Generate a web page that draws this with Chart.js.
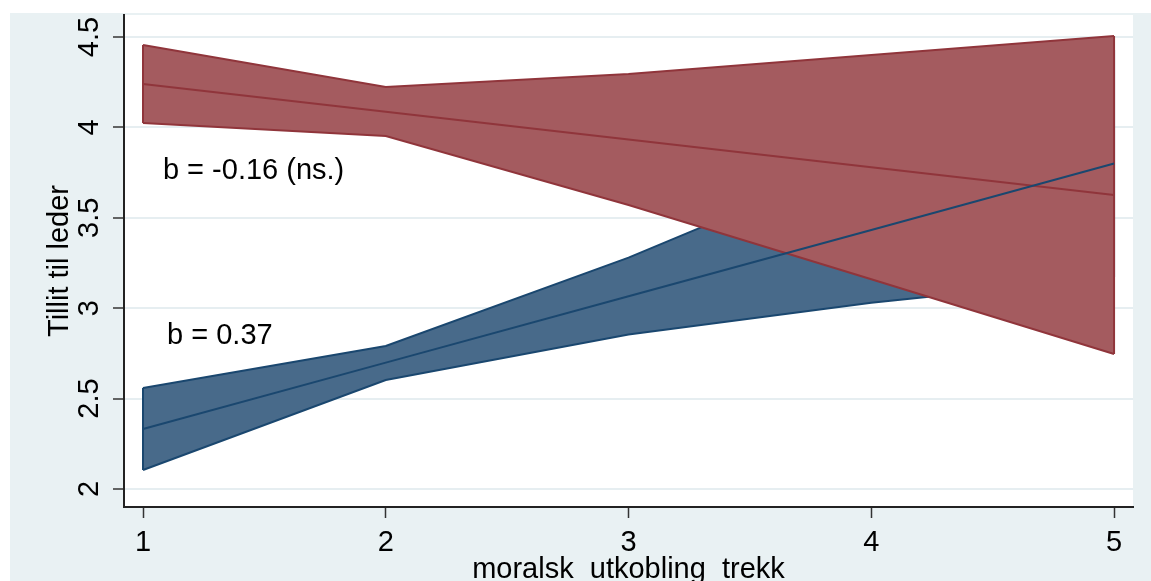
<!DOCTYPE html>
<html><head><meta charset="utf-8">
<script src="https://cdn.jsdelivr.net/npm/chart.js@4/dist/chart.umd.min.js"></script>
<style>html,body{margin:0;padding:0;background:#fff}#wrap{width:1151px;height:581px}</style>
</head><body><div id="wrap"><canvas id="c" width="1151" height="581"></canvas></div>
<script>
// ---- data ----
const xValues = [1, 2, 3, 4, 5];
const redMean  = [4.240, 4.087, 3.933, 3.780, 3.626];
const redUpper = [4.456, 4.223, 4.295, 4.400, 4.505];
const redLower = [4.024, 3.952, 3.571, 3.160, 2.747];
const blueMean  = [2.332, 2.699, 3.066, 3.433, 3.800];
const blueUpper = [2.559, 2.791, 3.280, 3.840, 4.430];
const blueLower = [2.105, 2.603, 2.855, 3.030, 3.170];
const xTicks = [1, 2, 3, 4, 5];
const xTickLabels = ['1', '2', '3', '4', '5'];
const yTicks = [2, 2.5, 3, 3.5, 4, 4.5];
const yTickLabels = ['2', '2.5', '3', '3.5', '4', '4.5'];
const xTitle = 'moralsk_utkobling_trekk';
const yTitle = 'Tillit til leder';
const annoText = ['b = -0.16 (ns.)', 'b = 0.37'];
const annoX = [1.082, 1.099];
const annoY = [3.715, 2.802];

// ---- styles ----
const FONT = '"Liberation Sans", Arial, sans-serif';
const RED_EDGE = 'rgb(144,53,59)', RED_FILL = 'rgb(164,91,95)';
const BLUE_EDGE = 'rgb(26,71,111)', BLUE_FILL = 'rgb(72,106,138)';
const OUTER_BG = 'rgb(233,241,243)';
const GRID = 'rgb(230,238,241)';

const pts = arr => xValues.map((x, i) => ({x, y: arr[i]}));

const bgPlugin = {
  id: 'bg',
  beforeDraw(chart) {
    const {ctx, chartArea: a, width, height} = chart;
    ctx.save();
    ctx.fillStyle = '#fff'; ctx.fillRect(0, 0, width, height);
    ctx.fillStyle = OUTER_BG; ctx.fillRect(10, 13, width - 10, height - 13);
    ctx.fillStyle = '#fff'; ctx.fillRect(a.left, a.top, a.right - a.left, a.bottom - a.top);
    ctx.restore();
  }
};

const edgePlugin = {
  id: 'edges',
  afterDatasetDraw(chart, args) {
    const pairs = {1: [blueLower, blueUpper, BLUE_EDGE], 3: [redLower, redUpper, RED_EDGE]};
    const p = pairs[args.index];
    if (!p) return;
    const {ctx, scales: {x, y}} = chart;
    ctx.save();
    ctx.strokeStyle = p[2]; ctx.lineWidth = 2;
    [0, xValues.length - 1].forEach(i => {
      const px = x.getPixelForValue(xValues[i]);
      ctx.beginPath();
      ctx.moveTo(px, y.getPixelForValue(p[0][i]));
      ctx.lineTo(px, y.getPixelForValue(p[1][i]));
      ctx.stroke();
    });
    ctx.restore();
  }
};

const textPlugin = {
  id: 'texts',
  afterDraw(chart) {
    const {ctx, scales: {x, y}} = chart;
    ctx.save();
    ctx.fillStyle = '#000';
    ctx.font = '29px ' + FONT;
    // rotated y tick labels
    ctx.textAlign = 'center'; ctx.textBaseline = 'middle';
    yTicks.forEach((v, i) => {
      ctx.save();
      ctx.translate(90, y.getPixelForValue(v));
      ctx.rotate(-Math.PI / 2);
      ctx.fillText(yTickLabels[i], 0, 0);
      ctx.restore();
    });
    // annotations
    ctx.textAlign = 'left'; ctx.textBaseline = 'alphabetic';
    annoText.forEach((t, i) => {
      ctx.fillText(t, x.getPixelForValue(annoX[i]), y.getPixelForValue(annoY[i]));
    });
    ctx.restore();
  }
};

const lineDs = (data, color, extra) => Object.assign({
  data: pts(data), borderColor: color, borderWidth: 2, pointRadius: 0,
  tension: 0, fill: false
}, extra);

new Chart(document.getElementById('c'), {
  type: 'line',
  data: {
    datasets: [
      lineDs(blueLower, BLUE_EDGE, {fill: '+1', backgroundColor: BLUE_FILL, order: 6}),
      lineDs(blueUpper, BLUE_EDGE, {order: 5}),
      lineDs(redLower, RED_EDGE, {fill: '+1', backgroundColor: RED_FILL, order: 4}),
      lineDs(redUpper, RED_EDGE, {order: 3}),
      lineDs(redMean, RED_EDGE, {order: 2}),
      lineDs(blueMean, BLUE_EDGE, {order: 1})
    ]
  },
  options: {
    responsive: false,
    animation: false,
    devicePixelRatio: 1,
    layout: {padding: {left: 0, top: 15, right: 18, bottom: 0}},
    plugins: {legend: {display: false}, tooltip: {enabled: false},
              filler: {drawTime: 'beforeDatasetDraw'}},
    scales: {
      x: {
        type: 'linear', min: 0.9217, max: 5.078,
        afterBuildTicks: s => { s.ticks = xTicks.map(v => ({value: v})); },
        afterFit: s => { s.height = 74; },
        ticks: {font: {size: 29, family: FONT}, color: '#000', padding: 8,
                maxRotation: 0, autoSkip: false,
                callback: v => xTickLabels[xTicks.indexOf(v)] ?? ''},
        grid: {drawOnChartArea: false, tickLength: 11, tickColor: '#333', tickWidth: 1.5},
        border: {display: true, color: '#222', width: 2},
        title: {display: true, text: xTitle, color: '#000',
                font: {size: 29, family: FONT, lineHeight: 0.76}, padding: 0}
      },
      y: {
        type: 'linear', min: 1.9004, max: 4.6217,
        afterBuildTicks: s => { s.ticks = yTicks.map(v => ({value: v})); },
        afterFit: s => { s.width = 124; },
        ticks: {display: false},
        grid: {color: GRID, lineWidth: 2, tickLength: 11, tickColor: '#333', tickWidth: 1.5},
        border: {display: true, color: '#222', width: 2},
        title: {display: true, text: yTitle, color: '#000',
                font: {size: 29, family: FONT, lineHeight: 1.2}, padding: {top: 42.6, bottom: 0}}
      }
    }
  },
  plugins: [bgPlugin, edgePlugin, textPlugin]
});
</script></body></html>
